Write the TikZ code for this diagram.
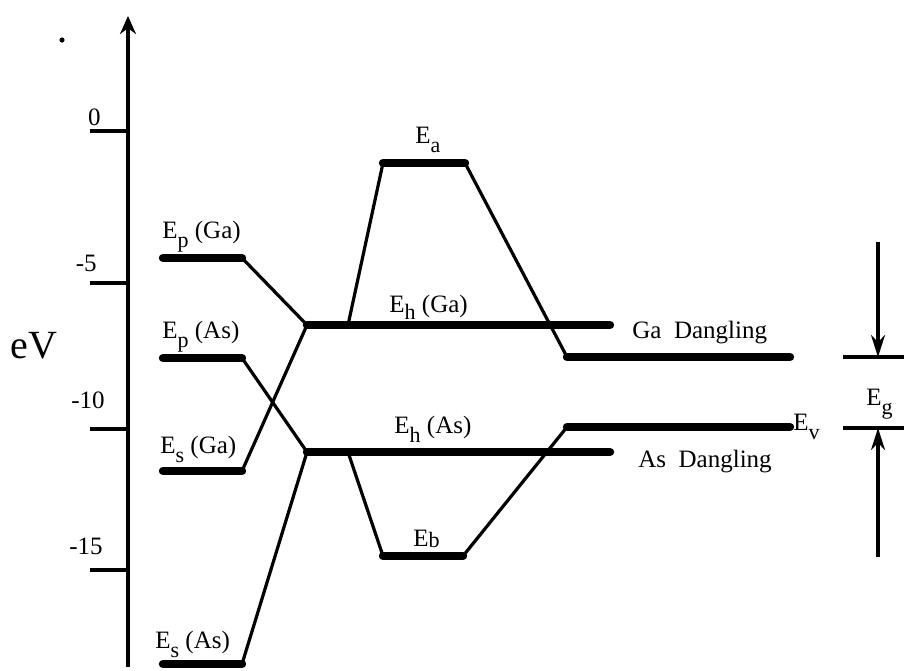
\documentclass[tikz,border=0pt]{standalone}
\usepackage{fontspec}
\setmainfont{Liberation Serif}
\usetikzlibrary{arrows.meta, positioning}

\newcommand{\lo}[2][-4.5pt]{\raisebox{#1}{\fontsize{11}{12}\selectfont #2}}

\tikzset{
  lvl/.style={line width=4.2pt, line cap=round},
  bond/.style={line width=1.6pt},
  lab/.style={font=\fontsize{12.5}{14}\selectfont, inner sep=0pt, anchor=base west},
  gaptip/.style={-{Stealth[length=11pt, width=7pt]}},
}

\begin{document}
\begin{tikzpicture}[x=0.5pt, y=-0.5pt]
  \useasboundingbox (0,0) rectangle (904,670);

  \coordinate (bot) at (128,667);
  \coordinate (top) at (128,16);
  \draw[line width=2pt, -{Stealth[length=9pt, width=8pt]}] (bot) -- (top);
  \foreach \t/\y/\lx/\ly in {0/131/101/126, -5/283/97/272, -10/429/105/409, -15/570/103/555} {
    \draw[line width=2pt] (90,\y) coordinate (tick\y) -- (128,\y);
    \node[lab, anchor=south east] (num\y) at (\lx,\ly) {\t};
  }
  \node[lab, font=\fontsize{20}{22}\selectfont] (ev) at (10,358) {eV};
  \fill (62,40) circle (1.3pt);

  \foreach \n/\xa/\xb/\y in {EpGa/163/242/258, EpAs/163/242/358, EsGa/163/242/471,
      EsAs/163/242/664, EhGa/307/610/325, EhAs/307/610/452, Ea/383/465/163,
      Eb/383/463/556, Ec/567/790/357, Ev/567/790/427} {
    \coordinate (\n-w) at (\xa,\y);
    \coordinate (\n-e) at (\xb,\y);
    \draw[lvl] (\n-w) -- (\n-e);
  }
  \coordinate (EhGa-a) at (348,325);
  \coordinate (EhAs-b) at (348,452);

  \draw[bond] (EpGa-e) -- (EhGa-w);
  \draw[bond] (EsGa-e) -- (EhGa-w);
  \draw[bond] (EpAs-e) -- (EhAs-w);
  \draw[bond] (EsAs-e) -- (EhAs-w);
  \draw[bond] (EhGa-a) -- (Ea-w);
  \draw[bond] (Ea-e) -- (Ec-w);
  \draw[bond] (EhAs-b) -- (Eb-w);
  \draw[bond] (Eb-e) -- (Ev-w);

  \node[lab] (lEpGa) at (162,238) {E\lo{p} (Ga)};
  \node[lab] (lEpAs) at (162,338) {E\lo{p} (As)};
  \node[lab] (lEsGa) at (160,453) {E\lo{s} (Ga)};
  \node[lab] (lEsAs) at (155,648) {E\lo{s} (As)};
  \node[lab] (lEa) at (415,143) {E\lo{a}};
  \node[lab] (lEhGa) at (389,312) {E\lo[-3.5pt]{h} (Ga)};
  \node[lab] (lEhAs) at (394,433) {E\lo{h} (As)};
  \node[lab] (lEb) at (413,546) {E\lo[-0.5pt]{b}};
  \node[lab] (lGa) at (632,338) {Ga~~Dangling};
  \node[lab] (lAs) at (638,467) {As~~Dangling};
  \node[lab] (lEv) at (793,430) {E\lo{v}};
  \node[lab] (lEg) at (866,405) {E\lo{g}};

  \coordinate (gtop) at (878,242);
  \coordinate (gbot) at (878,557);
  \coordinate (gc) at (878,357);
  \coordinate (gv) at (878,428);
  \draw[bond] (843,357) coordinate (gc-w) -- (904,357) coordinate (gc-e);
  \draw[bond] (843,428) coordinate (gv-w) -- (904,428) coordinate (gv-e);
  \draw[bond, gaptip] (gtop) -- (gc);
  \draw[bond, gaptip] (gbot) -- (gv);
\end{tikzpicture}
\end{document}
